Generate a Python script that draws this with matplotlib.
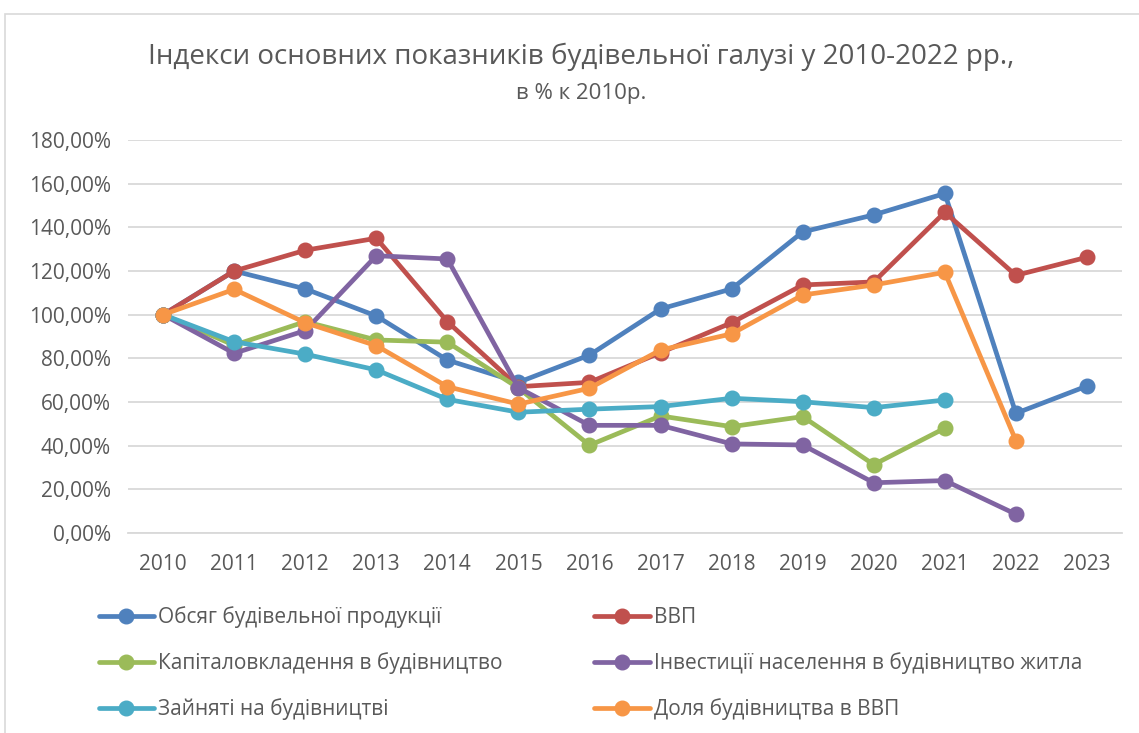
import matplotlib
matplotlib.use("Agg")
import matplotlib.pyplot as plt
from matplotlib.ticker import FuncFormatter
from matplotlib.patches import Rectangle

plt.rcParams["font.family"] = ["Open Sans", "DejaVu Sans"]

years = [str(y) for y in range(2010, 2024)]

# values in % of 2010 (None = no data)
obsyah = [100, 120, 111.8, 99.4, 79.2, 69, 81.5, 102.6, 111.8, 137.9, 145.7, 155.5, 54.8, 67.3]
vvp = [100, 120, 129.5, 135, 96.8, 67, 69, 82.6, 96.3, 113.6, 115, 146.9, 118, 126.3]
kapital = [100, 86, 96.8, 88.4, 87.4, 66.4, 40.2, 53.6, 48.7, 53.3, 31.3, 48, None, None]
invest = [100, 82.3, 92.7, 127, 125.5, 66.5, 49.3, 49.3, 40.8, 40.3, 23, 24, 8.6, None]
zainyati = [100, 87.6, 81.9, 74.7, 61.2, 55.3, 56.7, 57.9, 61.7, 60.1, 57.4, 60.9, None, None]
dolia = [100, 111.6, 96.3, 85.8, 67, 59, 66.3, 83.8, 91.2, 109, 113.6, 119.4, 42.3, None]

names = ["Обсяг будівельної продукції", "ВВП", "Капіталовкладення в будівництво",
         "Інвестиції населення в будівництво житла", "Зайняті на будівництві",
         "Доля будівництва в ВВП"]
colors = ["#4F81BD", "#C0504D", "#9BBB59", "#8064A2", "#4BACC6", "#F79646"]
series = [obsyah, vvp, kapital, invest, zainyati, dolia]

grey = "#595959"

fig = plt.figure(figsize=(11.39, 7.33), dpi=100)
ax = fig.add_axes([0.112, 0.2729, 0.8735, 0.5361])

x = list(range(len(years)))
handles = []
for name, col, vals in zip(names, colors, series):
    xs = [i for i, v in zip(x, vals) if v is not None]
    ys = [v for v in vals if v is not None]
    h, = ax.plot(xs, ys, color=col, lw=3.4, marker="o", markersize=10.5,
                 solid_capstyle="round", label=name)
    handles.append(h)

ax.set_xlim(-0.5, len(years) - 0.5)
ax.set_ylim(0, 180)
ax.set_yticks(range(0, 181, 20))
ax.yaxis.set_major_formatter(FuncFormatter(lambda v, p: f"{v:.2f}".replace(".", ",") + "%"))
ax.set_xticks(x)
ax.set_xticklabels(years)
ax.grid(axis="y", color="#d9d9d9", lw=1.3)
ax.set_axisbelow(True)
for s in ["top", "right", "left"]:
    ax.spines[s].set_visible(False)
ax.spines["bottom"].set_color("#d9d9d9")
ax.spines["bottom"].set_linewidth(1.3)
ax.tick_params(axis="both", length=0, labelsize=15, labelcolor=grey)
ax.tick_params(axis="x", pad=15)
ax.tick_params(axis="y", pad=12)

fig.text(0.51, 0.922, "Індекси основних показників будівельної галузі у 2010-2022 рр.,",
         ha="center", va="center", fontsize=20, color=grey)
fig.text(0.51, 0.873, "в % к 2010р.", ha="center", va="center", fontsize=16, color=grey)

order = [0, 2, 4, 1, 3, 5]
fig.legend([handles[i] for i in order], [names[i] for i in order], ncol=2,
           loc="upper left", bbox_to_anchor=(0.074, 0.193), frameon=False,
           fontsize=15, labelcolor=grey, handlelength=2.65, handletextpad=0.2,
           columnspacing=4.4, labelspacing=1.17, borderpad=0.2)

fig.patches.append(Rectangle((5 / 1139, -0.01), 1.0, 1 - 14 / 733 + 0.01,
                             transform=fig.transFigure, fill=False,
                             edgecolor="#d9d9d9", lw=1.2))

fig.savefig("out.png", dpi=100)
